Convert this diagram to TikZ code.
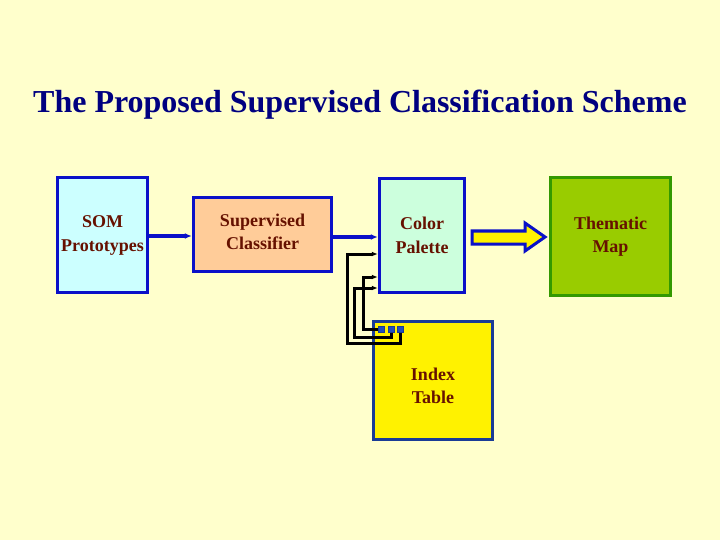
\documentclass[tikz,border=0pt]{standalone}
\usepackage{fontspec}
\setmainfont{Liberation Serif}
\usetikzlibrary{arrows.meta}
\definecolor{bgyellow}{HTML}{FFFFCC}
\definecolor{titleblue}{HTML}{000080}
\definecolor{textred}{HTML}{661100}
\definecolor{boxblue}{HTML}{0A10C8}
\definecolor{somfill}{HTML}{CCFFFF}
\definecolor{clsfill}{HTML}{FFCC99}
\definecolor{palfill}{HTML}{CCFFDD}
\definecolor{mapfill}{HTML}{99CC00}
\definecolor{mapgreen}{HTML}{339900}
\definecolor{idxblue}{HTML}{1A3C96}
\definecolor{sqblue}{HTML}{1F4FBF}

\begin{document}
\begin{tikzpicture}[x=1pt,y=-1pt,
    box/.style={draw=boxblue,line width=3.5pt,inner sep=0pt,align=center,
      text=textred,font=\fontsize{18}{24}\selectfont\bfseries},
    boxtext/.style={text=textred,align=center,font=\fontsize{18}{23}\selectfont\bfseries},
    link/.style={draw=boxblue,line width=3.5pt,-{Latex[length=7pt,width=6pt]}},
    wire/.style={draw=black,line width=3pt,-{Latex[length=6pt,width=5pt]}},
    slot/.style={draw=idxblue,fill=sqblue,line width=1pt,minimum size=6pt,inner sep=0pt}]
    % Background and title
    \fill[bgyellow] (0,0) rectangle (720,540);
    \useasboundingbox (0,0) rectangle (720,540);
    \node[titleblue,font=\fontsize{32}{38}\selectfont\bfseries] (title) at (360,105)
      {The Proposed Supervised Classification Scheme};
    % Drawing the blocks
    \node[box,fill=somfill,minimum width=90,minimum height=115] (som) at (102.5,235)
      {SOM\\Prototypes};
    \node[box,fill=clsfill,minimum width=138,minimum height=74,
      label={[boxtext,yshift=3pt]center:Supervised\\Classifier}] (classifier) at (262.5,234.5) {};
    \node[box,fill=palfill,minimum width=85,minimum height=114] (palette) at (422,235.5)
      {Color\\Palette};
    \node[box,draw=mapgreen,fill=mapfill,minimum width=120,minimum height=118,
      label={[boxtext]center:Thematic\\Map}] (map) at (610.5,236.5) {};
    \node[box,draw=idxblue,fill=yellow,minimum width=119,minimum height=118,
      label={[boxtext,yshift=-5pt]center:Index\\Table}] (index) at (433,380.5) {};
    \node[slot] (sq1) at (381,329) {};
    \node[slot] (sq2) at (391,329) {};
    \node[slot] (sq3) at (400.5,329) {};
    % Connecting the blocks
    \draw[link] (som.east |- 0,236) -- (classifier.west |- 0,236);
    \draw[link] (classifier.east |- 0,237) -- (palette.west |- 0,237);
    \draw[wire] (sq3.south) |- (347,343) |- (palette.west |- 0,254);
    \draw[wire] (sq1.west) -| (363,277) -- (palette.west |- 0,277);
    \draw[wire] (sq2.south) |- (354,337) |- (palette.west |- 0,288);
    % Big arrow to the map
    \coordinate (tip) at (545,237);
    \draw[boxblue,fill=yellow,line width=3pt,line join=miter]
      (472,231) -- (525,231) -- (525,223) -- (tip) -- (525,251) -- (525,244) -- (472,244) -- cycle;
\end{tikzpicture}
\end{document}
